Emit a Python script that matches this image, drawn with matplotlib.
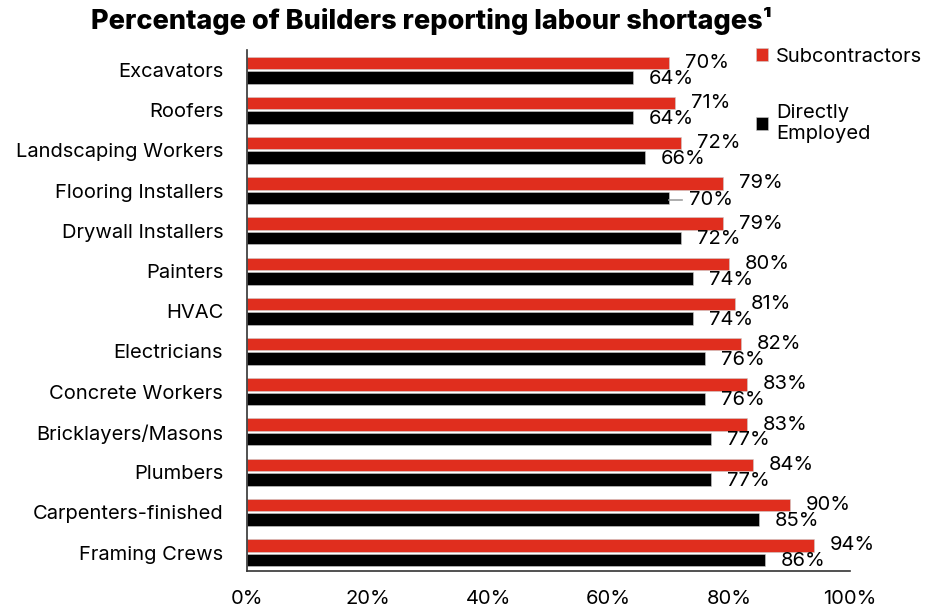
import matplotlib
matplotlib.use("Agg")
import matplotlib.pyplot as plt
import numpy as np

plt.rcParams['font.family'] = ['Inter', 'DejaVu Sans']

categories = ["Excavators", "Roofers", "Landscaping Workers", "Flooring Installers",
              "Drywall Installers", "Painters", "HVAC", "Electricians",
              "Concrete Workers", "Bricklayers/Masons", "Plumbers",
              "Carpenters-finished", "Framing Crews"]
subcontractors = [70, 71, 72, 79, 79, 80, 81, 82, 83, 83, 84, 90, 94]
directly_employed = [64, 64, 66, 70, 72, 74, 74, 76, 76, 77, 77, 85, 86]
xticks = [0, 20, 40, 60, 80, 100]
xtick_labels = ["0%", "20%", "40%", "60%", "80%", "100%"]

RED = "#E02E1E"
BLACK = "#000000"
FS = 14.5

fig = plt.figure(figsize=(9.35, 6.13), dpi=100)
ax = fig.add_axes([0.264, 0.0685, 0.645, 0.85])

y = np.arange(len(categories))
h = 0.31
off = 0.18
ax.barh(y - off, subcontractors, height=h, color=RED, edgecolor="#cccccc", linewidth=0.4,
        label="Subcontractors")
ax.barh(y + off, directly_employed, height=h, color=BLACK, edgecolor="#cccccc", linewidth=0.4,
        label="Directly\nEmployed")

for i, (s, d) in enumerate(zip(subcontractors, directly_employed)):
    ax.text(s + 2.6, i - off, f"{s}%", va="center", ha="left", fontsize=FS)
    if categories[i] == "Flooring Installers":
        ax.plot([d, d + 2.2], [i + off + 0.05, i + off + 0.05], color="#a0a0a0", lw=1.2)
        ax.text(d + 3.4, i + off + 0.05, f"{d}%", va="center", ha="left", fontsize=FS)
    else:
        ax.text(d + 2.6, i + off + 0.03, f"{d}%", va="center", ha="left", fontsize=FS)

ax.set_ylim(len(categories) - 0.54, -0.5)
ax.set_xlim(0, 100)
ax.set_yticks(y)
ax.set_yticklabels(categories, fontsize=FS)
ax.set_xticks(xticks)
ax.set_xticklabels(xtick_labels, fontsize=FS)
ax.tick_params(axis="y", length=0, pad=17)
ax.tick_params(axis="x", length=0, pad=14)
for sp in ["top", "right"]:
    ax.spines[sp].set_visible(False)
ax.spines["left"].set_color("#333333")
ax.spines["bottom"].set_color("#333333")
ax.spines["left"].set_linewidth(1.2)
ax.spines["bottom"].set_linewidth(1.2)

leg = fig.legend(loc="upper left", bbox_to_anchor=(0.789, 0.952), frameon=False,
                 fontsize=14.5, handlelength=0.6, handleheight=0.6, handletextpad=0.4,
                 labelspacing=1.9)

fig.text(0.461, 0.965, "Percentage of Builders reporting labour shortages\u00b9",
         ha="center", va="center", fontsize=19.5, fontweight="heavy")

fig.savefig("out.png", dpi=100)
